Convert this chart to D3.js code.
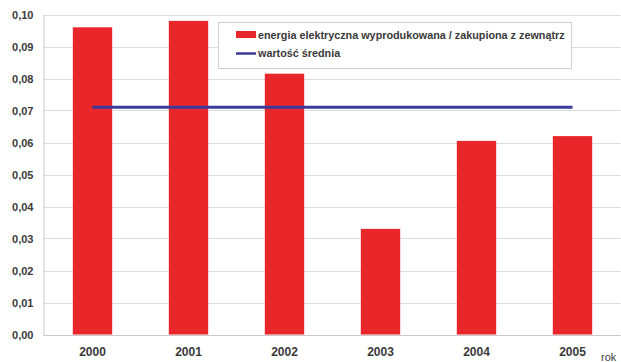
<!DOCTYPE html>
<html>
<head>
<meta charset="utf-8">
<script src="https://cdn.jsdelivr.net/npm/d3@7"></script>
<style>
html,body{margin:0;padding:0;background:#fff;}
svg{display:block;font-family:"Liberation Sans",Arial,sans-serif;}
</style>
</head>
<body>
<svg id="chart" width="621" height="362"></svg>
<script>
const categories = ["2000","2001","2002","2003","2004","2005"];
const values = [0.096, 0.098, 0.0815, 0.033, 0.0605, 0.062];
const meanValue = [0.071];
const yTicks = [0, 0.01, 0.02, 0.03, 0.04, 0.05, 0.06, 0.07, 0.08, 0.09, 0.10];
const seriesNames = ["energia elektryczna wyprodukowana / zakupiona z zewnątrz", "wartość średnia"];
const axisTitle = "rok";

const svg = d3.select("#chart");
const plotLeft = 43.5, plotRight = 620.5, plotTop = 14.5, plotBottom = 334.5;

const x = d3.scaleBand().domain(categories).range([plotLeft + 1, plotRight]).paddingInner(0.59).paddingOuter(0.295);
const y = d3.scaleLinear().domain([0, 0.10]).range([plotBottom, plotTop]);
const fmt = v => d3.format(".2f")(v).replace(".", ",");

// gridlines
svg.append("g").selectAll("line").data(yTicks).join("line")
  .attr("x1", plotLeft).attr("x2", plotRight)
  .attr("y1", d => Math.round(y(d)) + 0.5).attr("y2", d => Math.round(y(d)) + 0.5)
  .attr("stroke", d => d === 0 ? "#c8c8c8" : "#dcdcdc").attr("stroke-width", 1);

// y axis
const yAxis = d3.axisLeft(y).tickValues(yTicks).tickFormat(fmt).tickSize(0).tickPadding(10);
const gy = svg.append("g").attr("transform", `translate(${plotLeft},0)`).call(yAxis);
gy.select(".domain").attr("stroke", "#c8c8c8");
gy.selectAll("text").attr("font-size", 11).attr("font-weight", "bold").attr("fill", "#3a3a3a")
  .attr("font-family", "'Liberation Sans',Arial,sans-serif");

// bars
svg.append("g").selectAll("rect").data(values).join("rect")
  .attr("x", (d, i) => x(categories[i]))
  .attr("width", x.bandwidth())
  .attr("y", d => y(d))
  .attr("height", d => y(0) - y(d))
  .attr("fill", "#e9262a");

// mean line
const m = meanValue[0];
svg.append("line")
  .attr("x1", x(categories[0]) + x.bandwidth() / 2)
  .attr("x2", x(categories[categories.length - 1]) + x.bandwidth() / 2)
  .attr("y1", y(m)).attr("y2", y(m))
  .attr("stroke", "#3b3a9c").attr("stroke-width", 3);

// x axis labels
const xAxis = d3.axisBottom(x).tickSize(0).tickPadding(13);
const gx = svg.append("g").attr("transform", `translate(0,${plotBottom})`).call(xAxis);
gx.select(".domain").remove();
gx.selectAll("text").attr("font-size", 12).attr("font-weight", "bold").attr("fill", "#3a3a3a")
  .attr("font-family", "'Liberation Sans',Arial,sans-serif");

svg.append("text").attr("x", 601).attr("y", 361).attr("font-size", 11).attr("fill", "#3a3a3a").text(axisTitle);

// legend
const lg = svg.append("g");
lg.append("rect").attr("x", 218.5).attr("y", 22.5).attr("width", 353).attr("height", 46)
  .attr("fill", "#fff").attr("stroke", "#cfcfcf");
lg.append("rect").attr("x", 236).attr("y", 31).attr("width", 20).attr("height", 7).attr("fill", "#e9262a");
lg.append("text").attr("x", 258).attr("y", 38.5).attr("font-size", 10.8).attr("font-weight", "bold")
  .attr("fill", "#3a3a3a").text(seriesNames[0]);
lg.append("line").attr("x1", 236).attr("x2", 256).attr("y1", 53.5).attr("y2", 53.5)
  .attr("stroke", "#3b3a9c").attr("stroke-width", 2.5);
lg.append("text").attr("x", 258).attr("y", 57).attr("font-size", 10.8).attr("font-weight", "bold")
  .attr("fill", "#3a3a3a").text(seriesNames[1]);
</script>
</body>
</html>
